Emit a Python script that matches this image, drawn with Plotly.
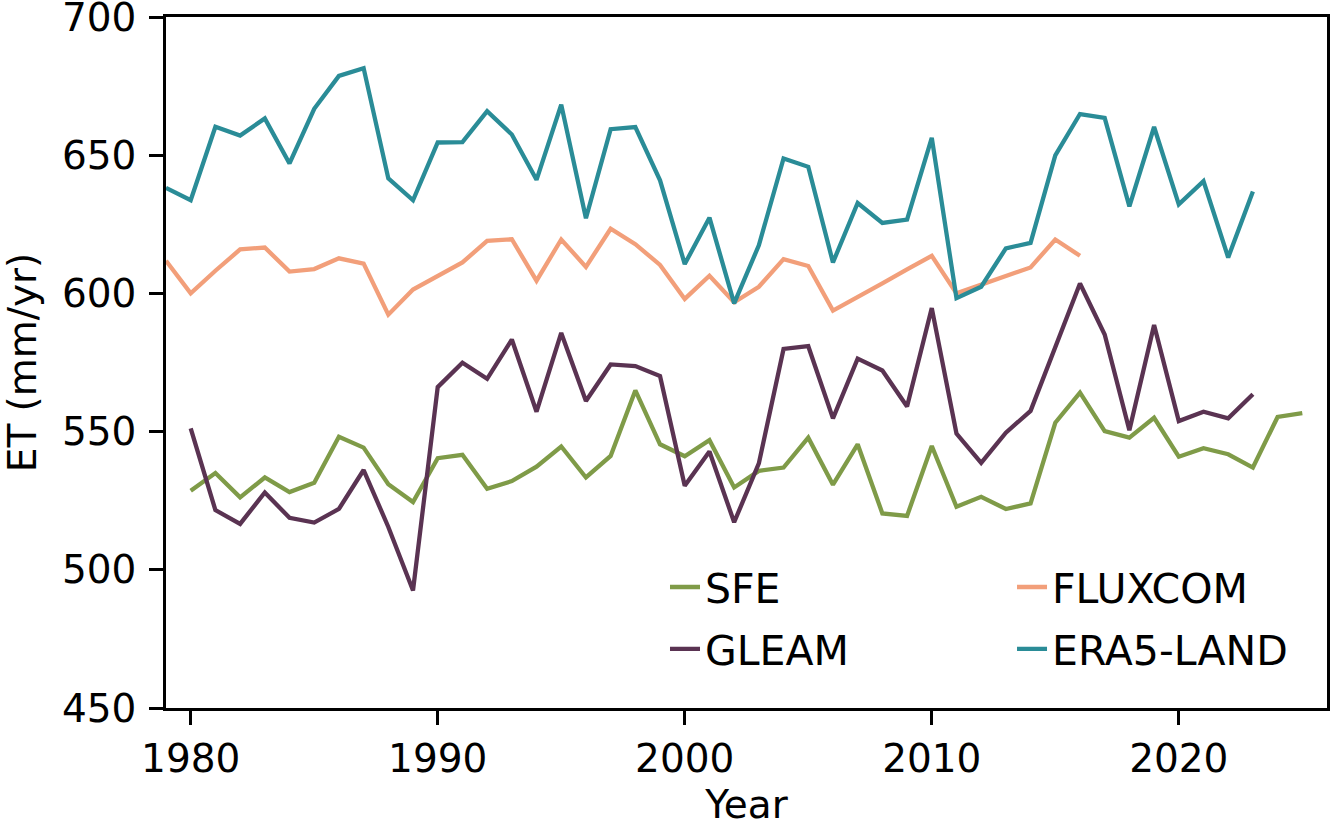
import plotly.graph_objects as go

years_sfe = list(range(1980, 2026))
sfe = [528.6, 535.0, 526.2, 533.4, 528.1, 531.5, 548.1, 544.2, 531.0, 524.5,
       540.4, 541.6, 529.3, 532.1, 537.3, 544.6, 533.4, 541.2, 564.9, 545.4,
       541.1, 546.9, 529.8, 535.8, 537.0, 547.8, 530.8, 545.4, 520.4, 519.5,
       544.8, 522.8, 526.4, 522.0, 524.0, 553.2, 564.1, 550.2, 547.8, 555.0,
       540.9, 544.0, 541.8, 537.0, 555.3, 556.7]

years_gleam = list(range(1980, 2024))
gleam = [551.2, 521.6, 516.6, 528.0, 518.8, 517.1, 522.0, 536.1, 515.5, 492.5,
         566.1, 574.9, 569.1, 583.3, 557.2, 585.7, 561.1, 574.3, 573.7, 570.1,
         530.4, 542.8, 517.2, 538.5, 579.9, 580.9, 554.8, 576.4, 572.1, 559.1,
         594.7, 549.3, 538.7, 549.6, 557.5, 580.5, 603.6, 585.1, 550.5, 588.6,
         553.8, 557.2, 554.8, 563.5]

years_fluxcom = list(range(1979, 2017))
fluxcom = [611.8, 600.0, 608.2, 615.9, 616.6, 607.9, 608.8, 612.7, 610.8, 592.3,
           601.4, 606.4, 611.2, 619.0, 619.6, 604.6, 619.5, 609.6, 623.4, 617.8,
           610.3, 598.0, 606.4, 596.8, 602.4, 612.4, 609.9, 593.8, 598.6, 603.6,
           608.7, 613.6, 600.0, 603.1, 606.4, 609.4, 619.5, 613.6]

years_era5 = list(range(1979, 2024))
era5 = [638.2, 633.7, 660.3, 657.1, 663.3, 647.0, 666.8, 678.7, 681.5, 641.6,
        633.7, 654.6, 654.7, 665.9, 657.5, 641.1, 668.3, 627.2, 659.4, 660.2,
        640.9, 610.6, 627.4, 596.4, 617.4, 648.8, 645.8, 611.2, 632.7, 625.5,
        626.7, 656.3, 598.3, 602.4, 616.3, 618.3, 649.9, 664.9, 663.5, 631.5,
        660.2, 632.2, 640.6, 613.0, 636.9]

x_ticks = [1980, 1990, 2000, 2010, 2020]
y_ticks = [450, 500, 550, 600, 650, 700]

C_SFE = "#7f9b48"
C_GLEAM = "#5a3352"
C_FLUX = "#f29f7a"
C_ERA5 = "#2a8c97"

FONT = "DejaVu Sans"
LW = 4.3

fig = go.Figure()
fig.add_trace(go.Scatter(x=years_sfe, y=sfe, mode="lines", name="SFE",
                         line=dict(color=C_SFE, width=LW), legend="legend"))
fig.add_trace(go.Scatter(x=years_gleam, y=gleam, mode="lines", name="GLEAM",
                         line=dict(color=C_GLEAM, width=LW), legend="legend2"))
fig.add_trace(go.Scatter(x=years_fluxcom, y=fluxcom, mode="lines", name="FLUXCOM",
                         line=dict(color=C_FLUX, width=LW), legend="legend3"))
fig.add_trace(go.Scatter(x=years_era5, y=era5, mode="lines", name="ERA5-LAND",
                         line=dict(color=C_ERA5, width=LW), legend="legend4"))

leg_common = dict(orientation="v", xanchor="left", yanchor="middle",
                  bgcolor="rgba(0,0,0,0)", borderwidth=0,
                  font=dict(family=FONT, size=41, color="black"))

col1, col2 = 0.4298, 0.7287
row1, row2 = 0.1746, 0.0851

fig.update_layout(
    width=1332, height=827,
    margin=dict(l=166, r=5, t=17, b=119),
    paper_bgcolor="white", plot_bgcolor="white",
    font=dict(family=FONT, size=39, color="black"),
    showlegend=True,
    legend=dict(x=col1, y=row1, **leg_common),
    legend2=dict(x=col1, y=row2, **leg_common),
    legend3=dict(x=col2, y=row1, **leg_common),
    legend4=dict(x=col2, y=row2, **leg_common),
    xaxis=dict(
        range=[1979, 2026], tickvals=x_ticks, ticktext=[str(v) for v in x_ticks],
        showgrid=False, zeroline=False, showline=True, linecolor="black",
        linewidth=2.5, mirror=True, ticks="outside", ticklen=14, tickwidth=2.5,
        tickcolor="black", tickfont=dict(family=FONT, size=39),
        ticklabeloverflow="allow", automargin=False,
        title=dict(text="Year", font=dict(family=FONT, size=39), standoff=12),
    ),
    yaxis=dict(
        range=[450, 700], tickvals=y_ticks, ticktext=[str(v) for v in y_ticks],
        showgrid=False, zeroline=False, showline=True, linecolor="black",
        linewidth=2.5, mirror=True, ticks="outside", ticklen=14, tickwidth=2.5,
        tickcolor="black", tickfont=dict(family=FONT, size=39),
        ticklabeloverflow="allow", automargin=False, ticklabelstandoff=5,
        title=dict(text="ET (mm/yr)", font=dict(family=FONT, size=39), standoff=24),
    ),
)

fig.write_html("out.html", config={"displayModeBar": False},
               post_script="document.body.style.margin='0';document.body.style.overflow='hidden';")
